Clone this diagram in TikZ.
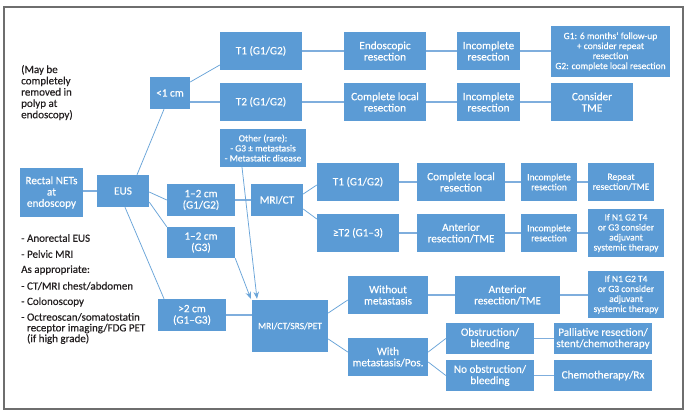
\documentclass[tikz,border=0pt]{standalone}
\usepackage{fontspec}
\setmainfont{Carlito}[FakeBold=0.35]
\usetikzlibrary{arrows.meta}
\definecolor{boxblue}{HTML}{5B9BD5}
\definecolor{lineblue}{HTML}{7FAEDD}
\definecolor{framegray}{HTML}{6E6E6E}
\definecolor{notetext}{HTML}{231F20}
\tikzset{
  box/.style={fill=boxblue, draw=none, text=white, align=center, inner sep=1pt,
    font=\fontsize{11.2}{11.3}\selectfont},
  smallbox/.style={box, font=\fontsize{9.5}{10}\selectfont},
  conn/.style={draw=lineblue, line width=1.1pt},
  diag/.style={draw=boxblue!90!white, line width=0.75pt},
  arr/.style={diag, -{Stealth[length=7pt,width=5.5pt]}},
  note/.style={text=notetext, anchor=west, inner sep=0pt, align=left,
    font=\fontsize{11}{11.3}\selectfont},
}
\begin{document}
\begin{tikzpicture}[x=1pt,y=-1pt]
\useasboundingbox (0,0) rectangle (692,417);
\fill[white] (0,0) rectangle (692,417);
\draw[framegray, line width=1.3pt] (4,7) rectangle (683,409);

% nodes
\node[box, minimum width=63pt, minimum height=49pt] (rect) at (51.5,192.5) {Rectal NETs\\at\\endoscopy};
\node[box, minimum width=52pt, minimum height=32pt] (eus) at (123,191) {EUS};
\node[box, minimum width=40pt, minimum height=32pt] (lt1) at (170,93) {<1 cm};
\node[box, minimum width=82pt, minimum height=38pt] (t1a) at (261,51) {T1 (G1/G2)};
\node[box, minimum width=82pt, minimum height=38pt] (t2a) at (261,102) {T2 (G1/G2)};
\node[box, minimum width=82pt, minimum height=38pt] (endo) at (385,51) {Endoscopic\\resection};
\node[box, minimum width=63pt, minimum height=38pt] (inca) at (488.5,51) {Incomplete\\resection};
\node[smallbox, minimum width=119pt, minimum height=51pt] (g1) at (610.5,51.5) {G1: 6 months' follow-up\\+ consider repeat\\resection\\G2: complete local resection};
\node[box, minimum width=82pt, minimum height=38pt] (cla) at (385,102) {Complete local\\resection};
\node[box, minimum width=63pt, minimum height=38pt] (incd) at (488.5,102) {Incomplete\\resection};
\node[box, minimum width=82pt, minimum height=38pt] (tme) at (592,102) {Consider\\TME};

\node[smallbox, minimum width=86pt, minimum height=38pt] (other) at (263,148) {Other (rare):\\- G3 ± metastasis\\- Metastatic disease};
\node[box, minimum width=68pt, minimum height=32pt] (c12a) at (201,200) {1--2 cm\\(G1/G2)};
\node[box, minimum width=52pt, minimum height=32pt] (mrict) at (277,200) {MRI/CT};
\node[box, minimum width=82pt, minimum height=38pt] (t1b) at (358,182) {T1 (G1/G2)};
\node[box, minimum width=82pt, minimum height=38pt] (t2b) at (358,233) {≥T2 (G1--3)};
\node[box, minimum width=88pt, minimum height=38pt] (clr) at (461,182) {Complete local\\resection};
\node[smallbox, minimum width=56pt, minimum height=38pt] (incb) at (549,182) {Incomplete\\resection};
\node[smallbox, minimum width=66pt, minimum height=38pt] (rep) at (621,182) {Repeat\\resection/TME};
\node[box, minimum width=88pt, minimum height=38pt] (ant1) at (461,233) {Anterior\\resection/TME};
\node[smallbox, minimum width=56pt, minimum height=38pt] (incc) at (549,233) {Incomplete\\resection};
\node[smallbox, minimum width=76pt, minimum height=48pt] (ifn1) at (626,233) {If N1 G2 T4\\or G3 consider\\adjuvant\\systemic therapy};

\node[box, minimum width=68pt, minimum height=31pt] (c12b) at (201,242.5) {1--2 cm\\(G3)};
\node[box, minimum width=68pt, minimum height=32pt] (gt2) at (192,315) {>2 cm\\(G1--G3)};
\node[smallbox, minimum width=76pt, minimum height=52pt] (mcsp) at (290,326) {MRI/CT/SRS/PET};
\node[box, minimum width=80pt, minimum height=38pt] (wo) at (388,295) {Without\\metastasis};
\node[box, minimum width=105pt, minimum height=38pt] (ant2) at (507.5,295) {Anterior\\resection/TME};
\node[smallbox, minimum width=76pt, minimum height=47pt] (ifn2) at (626,294.5) {If N1 G2 T4\\or G3 consider\\adjuvant\\systemic therapy};
\node[box, minimum width=80pt, minimum height=38pt] (wm) at (388,357) {With\\metastasis/Pos.};
\node[box, minimum width=88pt, minimum height=31pt] (obs) at (490,338.5) {Obstruction/\\bleeding};
\node[box, minimum width=88pt, minimum height=31pt] (nob) at (490,375.5) {No obstruction/\\bleeding};
\node[box, minimum width=98pt, minimum height=31pt] (pal) at (603,338.5) {Palliative resection/\\stent/chemotherapy};
\node[box, minimum width=98pt, minimum height=31pt] (chem) at (603,375.5) {Chemotherapy/Rx};

% notes
\node[note] (polyp) at (21,92.5) {(May be\\completely\\removed in\\polyp at\\endoscopy)};
\node[note] (n1) at (21,238) {- Anorectal EUS};
\node[note] (n2) at (21,254) {- Pelvic MRI};
\node[note] (n3) at (21,270) {As appropriate:};
\node[note] (n4) at (21,286) {- CT/MRI chest/abdomen};
\node[note] (n5) at (21,302) {- Colonoscopy};
\node[note, font=\fontsize{11}{10.7}\selectfont] (n6) at (21,328.5) {- Octreoscan/somatostatin\\\phantom{- }receptor imaging/FDG PET\\\phantom{- }(if high grade)};

% connectors
\draw[conn] (rect.east |- eus.west) -- (eus.west);
\draw[diag] ([xshift=14pt]eus.north) -- ([xshift=-6pt]lt1.south);
\draw[diag] ([yshift=11pt]lt1.east) -- ([yshift=-14pt]t1a.west);
\draw[conn] (t2a.west -| lt1.east) -- (t2a.west);
\draw[conn] (t1a) -- (endo);
\draw[conn] (endo) -- (inca);
\draw[conn] (inca) -- (g1.west |- inca.east);
\draw[conn] (t2a) -- (cla);
\draw[conn] (cla) -- (incd);
\draw[conn] (incd) -- (tme);
\draw[diag] ([yshift=-1pt]eus.east) -- (c12a.west);
\draw[diag] ([yshift=-11pt]eus.east) -- (c12b.north west);
\draw[diag] ([xshift=2pt]eus.south) -- ([xshift=-28pt]gt2.north);
\draw[conn] (c12a) -- (mrict);
\draw[diag] ([yshift=6pt]mrict.east) -- ([yshift=-3pt]t1b.west);
\draw[diag] ([yshift=-9pt]mrict.east) -- ([yshift=14pt]t2b.west);
\draw[conn] (t1b) -- (clr);
\draw[conn] (clr) -- (incb);
\draw[conn] (incb) -- (rep);
\draw[conn] (t2b) -- (ant1);
\draw[conn] (ant1) -- (incc);
\draw[conn] (incc) -- (ifn1);
\draw[arr] ([xshift=-21pt]other.south) -- ([xshift=-33pt,yshift=1pt]mcsp.north);
\draw[arr] (c12b.south east) -- ([xshift=-1pt,yshift=1pt]mcsp.north west);
\draw[conn] (gt2.east) -- (gt2.east -| mcsp.west);
\draw[diag] ([yshift=13pt]mcsp.east) -- ([yshift=-5pt]wo.west);
\draw[diag] ([yshift=-13pt]mcsp.east) -- ([yshift=5pt]wm.west);
\draw[conn] (wo) -- (ant2);
\draw[conn] (ant2) -- (ifn2.west |- ant2.east);
\draw[diag] ([yshift=5pt]wm.east) -- (obs.west);
\draw[diag] ([yshift=-5pt]wm.east) -- (nob.west);
\draw[conn] (obs) -- (pal);
\draw[conn] (nob) -- (chem);
\end{tikzpicture}
\end{document}
